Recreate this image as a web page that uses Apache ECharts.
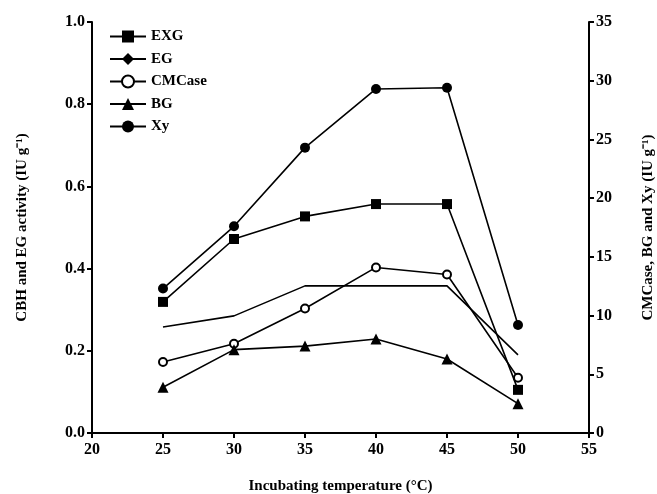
<!DOCTYPE html>
<html><head><meta charset="utf-8">
<script src="https://cdn.jsdelivr.net/npm/echarts@6/dist/echarts.min.js"></script>
<style>html,body{margin:0;padding:0;background:#fff}#c{width:657px;height:494px}</style>
</head><body><div id="c"></div>
<script>
const temps = [25, 30, 35, 40, 45, 50];
const exg = [0.319, 0.472, 0.527, 0.557, 0.557, 0.105];
const eg = [0.258, 0.285, 0.358, 0.358, 0.358, 0.19];
const cmcase = [6.05, 7.6, 10.6, 14.1, 13.5, 4.7];
const bg = [3.9, 7.1, 7.4, 8.0, 6.3, 2.5];
const xy = [12.3, 17.6, 24.3, 29.3, 29.4, 9.2];

const font = 'Liberation Serif';
const pair = arr => temps.map((t, i) => [t, arr[i]]);
const base = {type: 'line', lineStyle: {color: '#000', width: 1.6}, itemStyle: {color: '#000'}, symbolSize: 9};
const nameStyle = {fontFamily: font, fontWeight: 'bold', fontSize: 15, color: '#000'};
const labelStyle = {fontFamily: font, fontWeight: 'bold', fontSize: 16, color: '#000'};
const chart = echarts.init(document.getElementById('c'));
chart.setOption({
  animation: false,
  grid: {left: 92, right: 68, top: 22, bottom: 61, containLabel: false, outerBoundsMode: 'none'},
  legend: {
    left: 104, top: 24, orient: 'vertical', itemGap: 7.5, itemWidth: 36, itemHeight: 15,
    textStyle: {fontFamily: font, fontWeight: 'bold', fontSize: 15, color: '#000'},
    data: ['EXG', 'EG', 'CMCase', 'BG', 'Xy']
  },
  xAxis: {
    type: 'value', min: 20, max: 55, interval: 5,
    name: 'Incubating temperature (°C)', nameLocation: 'middle', nameGap: 46,
    nameTextStyle: nameStyle,
    axisLine: {lineStyle: {color: '#000', width: 2}},
    axisTick: {lineStyle: {color: '#000', width: 2}, length: 5},
    axisLabel: Object.assign({margin: 9}, labelStyle),
    splitLine: {show: false}
  },
  yAxis: [{
    type: 'value', min: 0, max: 1.0, interval: 0.2,
    name: 'CBH and EG activity (IU g⁻¹)', nameLocation: 'middle', nameGap: 62,
    nameTextStyle: nameStyle,
    axisLine: {show: true, lineStyle: {color: '#000', width: 2}},
    axisTick: {show: true, lineStyle: {color: '#000', width: 2}, length: 5},
    axisLabel: Object.assign({margin: 7, formatter: v => v.toFixed(1)}, labelStyle),
    splitLine: {show: false}
  }, {
    type: 'value', min: 0, max: 35, interval: 5, position: 'right',
    name: 'CMCase, BG and Xy (IU g⁻¹)', nameLocation: 'middle', nameGap: 52,
    nameTextStyle: nameStyle,
    axisLine: {show: true, lineStyle: {color: '#000', width: 2}},
    axisTick: {show: true, lineStyle: {color: '#000', width: 2}, length: 5},
    axisLabel: Object.assign({margin: 7}, labelStyle),
    splitLine: {show: false}
  }],
  series: [
    Object.assign({}, base, {name: 'EXG', yAxisIndex: 0, symbol: 'rect', symbolSize: 10, data: pair(exg)}),
    Object.assign({}, base, {name: 'EG', yAxisIndex: 0, symbol: 'diamond', symbolSize: 11, showSymbol: false, data: pair(eg)}),
    Object.assign({}, base, {name: 'CMCase', yAxisIndex: 1, symbol: 'emptyCircle', symbolSize: 8, itemStyle: {color: '#000', borderWidth: 1.6}, data: pair(cmcase)}),
    Object.assign({}, base, {name: 'BG', yAxisIndex: 1, symbol: 'triangle', symbolSize: 11, data: pair(bg)}),
    Object.assign({}, base, {name: 'Xy', yAxisIndex: 1, symbol: 'circle', symbolSize: 10, data: pair(xy)})
  ]
});
</script></body></html>
